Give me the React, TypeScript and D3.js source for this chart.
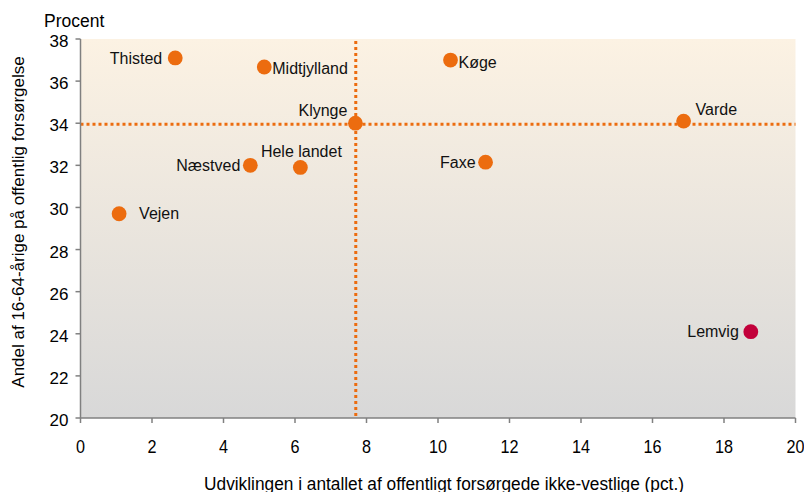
import React from "react";
import * as d3 from "d3";

const names = ["Thisted", "Midtjylland", "Køge", "Klynge", "Varde", "Næstved", "Hele landet", "Faxe", "Vejen", "Lemvig"];
const xValues = [2.65, 5.14, 10.35, 7.69, 16.87, 4.75, 6.15, 11.33, 1.08, 18.75];
const yValues = [37.1, 36.67, 37.0, 34.0, 34.1, 32.0, 31.9, 32.15, 29.7, 24.1];
const highlight = ["Lemvig"];
const refX = 7.7;
const refY = 33.95;
const xTicks = [0, 2, 4, 6, 8, 10, 12, 14, 16, 18, 20];
const yTicks = [20, 22, 24, 26, 28, 30, 32, 34, 36, 38];

// label placement: [anchor, dx, dy]
const labelPos: Record<string, [string, number, number]> = {
  Thisted: ["end", -13, 6],
  Midtjylland: ["start", 8, 7],
  "Køge": ["start", 8, 8],
  Klynge: ["end", -8, -7],
  Varde: ["start", 12, -6],
  "Næstved": ["end", -10, 6],
  "Hele landet": ["middle", 1, -10],
  Faxe: ["end", -10, 6],
  Vejen: ["start", 20, 5],
  Lemvig: ["end", -12, 5],
};

export default function App() {
  const W = 804, H = 492;
  const left = 80.5, right = 795.5, top = 39, bottom = 418;
  const x = d3.scaleLinear().domain([0, 20]).range([left, right]);
  const y = d3.scaleLinear().domain([20, 38]).range([bottom, top]);
  const font = "Arial, 'Liberation Sans', sans-serif";
  const orange = "#ec6c0f";
  return (
    <svg width={W} height={H} style={{ position: "absolute", left: 0, top: 0 }} fontFamily={font}>
      <defs>
        <linearGradient id="bg" x1="0" y1="0" x2="0" y2="1">
          <stop offset="0" stopColor="#fcf2e3" />
          <stop offset="1" stopColor="#d8d8d8" />
        </linearGradient>
      </defs>
      <rect x={left} y={top} width={right - left} height={bottom - top} fill="url(#bg)" />
      {/* reference lines */}
      <line x1={x(refX)} x2={x(refX)} y1={y(37.9)} y2={bottom} stroke={orange} strokeWidth={3} strokeDasharray="3,3" />
      <line x1={left} x2={right} y1={y(refY)} y2={y(refY)} stroke={orange} strokeWidth={3} strokeDasharray="3,3" />
      {/* axes */}
      <line x1={left} x2={left} y1={top} y2={bottom} stroke="#808080" strokeWidth={1.5} />
      <line x1={left} x2={right} y1={bottom} y2={bottom} stroke="#808080" strokeWidth={1.5} />
      {yTicks.map((t) => (
        <g key={"y" + t}>
          <line x1={left - 5} x2={left} y1={y(t)} y2={y(t)} stroke="#808080" strokeWidth={1.5} />
          <text x={left - 12} y={y(t) + 8} textAnchor="end" fontSize={17} fill="#000">{t}</text>
        </g>
      ))}
      {xTicks.map((t) => (
        <g key={"x" + t}>
          <line x1={x(t)} x2={x(t)} y1={bottom} y2={bottom + 5} stroke="#808080" strokeWidth={1.5} />
          <text transform={`translate(${x(t)},453) scale(0.9,1)`} textAnchor="middle" fontSize={18} fill="#000">{t}</text>
        </g>
      ))}
      <text x={44} y={27} fontSize={17.5} fill="#000">Procent</text>
      <text transform="translate(444,490) scale(0.935,1)" textAnchor="middle" fontSize={18.5} fill="#000">
        Udviklingen i antallet af offentligt forsørgede ikke-vestlige (pct.)
      </text>
      <text transform={`translate(24,222) rotate(-90)`} textAnchor="middle" fontSize={17} fill="#000">
        Andel af 16-64-årige på offentlig forsørgelse
      </text>
      {/* points */}
      {names.map((n, i) => {
        const [anchor, dx, dy] = labelPos[n];
        const cx = x(xValues[i]), cy = y(yValues[i]);
        return (
          <g key={n}>
            <circle cx={cx} cy={cy} r={7.4} fill={highlight.includes(n) ? "#c2003a" : orange} />
            <text x={cx + dx} y={cy + dy} textAnchor={anchor as any} fontSize={16} fill="#111">{n}</text>
          </g>
        );
      })}
    </svg>
  );
}
